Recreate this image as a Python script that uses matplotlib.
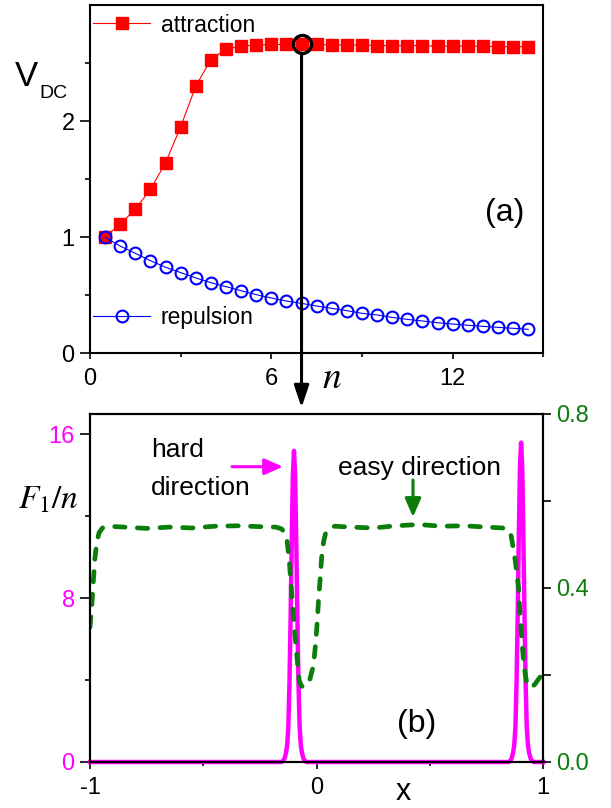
import matplotlib
matplotlib.use("Agg")
import matplotlib.pyplot as plt

plt.rcParams['font.family'] = ['Liberation Sans', 'DejaVu Sans']
plt.rcParams['axes.unicode_minus'] = False

# panel (a): V_DC against n
n_vals = [0.5, 1.0, 1.5, 2.0, 2.5, 3.0, 3.5, 4.0, 4.5, 5.0, 5.5, 6.0, 6.5, 7.0, 7.5,
          8.0, 8.5, 9.0, 9.5, 10.0, 10.5, 11.0, 11.5, 12.0, 12.5, 13.0, 13.5, 14.0, 14.5]
attraction = [1.00, 1.11, 1.24, 1.41, 1.64, 1.95, 2.30, 2.53, 2.62, 2.645, 2.655, 2.66, 2.66, 2.66, 2.66,
              2.655, 2.655, 2.655, 2.65, 2.65, 2.65, 2.65, 2.645, 2.645, 2.645, 2.645, 2.64, 2.64, 2.64]
repulsion = [0.997, 0.922, 0.859, 0.796, 0.739, 0.693, 0.647, 0.606, 0.572, 0.537, 0.503, 0.474, 0.448, 0.428, 0.405,
             0.385, 0.365, 0.342, 0.328, 0.307, 0.290, 0.276, 0.261, 0.250, 0.239, 0.230, 0.221, 0.213, 0.204]
marked_n = 7.0
marked_v = 2.66

# panel (b): F1/n (left axis) and easy-direction curve (right axis) against x
f1_x = [-1.0,
        -0.155, -0.145, -0.140, -0.135, -0.130, -0.125, -0.120, -0.115, -0.110, -0.105, -0.100,
        -0.095, -0.090, -0.085, -0.080, -0.075, -0.070, -0.065, -0.060, -0.055, -0.045,
        0.847, 0.857, 0.862, 0.867, 0.872, 0.877, 0.882, 0.887, 0.892, 0.897, 0.902,
        0.907, 0.912, 0.917, 0.922, 0.927, 0.932, 0.937, 0.942, 0.947, 0.957,
        1.0]
f1_y = [0.0,
        0.0, 0.09, 0.24, 0.46, 0.84, 1.7, 3.8, 7.0, 10.8, 14.0, 15.2,
        14.0, 10.8, 7.0, 3.8, 1.7, 0.84, 0.46, 0.24, 0.09, 0.0,
        0.0, 0.09, 0.25, 0.47, 0.86, 1.7, 3.9, 7.2, 11.1, 14.4, 15.6,
        14.4, 11.1, 7.2, 3.9, 1.7, 0.86, 0.47, 0.25, 0.09, 0.0,
        0.0]
easy_x = [-1.000, -0.992, -0.985, -0.978, -0.970, -0.960, -0.945, -0.920, -0.85, -0.75, -0.65, -0.55,
          -0.45, -0.35, -0.25, -0.18, -0.155, -0.142, -0.132, -0.121, -0.110, -0.099, -0.087, -0.077,
          -0.068, -0.058, -0.045, -0.030, -0.014, -0.005, 0.001, 0.008, 0.015, 0.022, 0.030, 0.040,
          0.055, 0.08, 0.15, 0.25, 0.35, 0.45, 0.55, 0.65, 0.75, 0.82, 0.845, 0.858, 0.868, 0.876,
          0.884, 0.891, 0.898, 0.904, 0.910, 0.918, 0.928, 0.940, 0.952, 0.965, 0.978, 0.990, 1.000]
easy_y = [0.31, 0.36, 0.418, 0.47, 0.505, 0.527, 0.538, 0.542, 0.540, 0.537, 0.540, 0.538,
          0.542, 0.543, 0.541, 0.540, 0.536, 0.528, 0.515, 0.464, 0.388, 0.311, 0.242, 0.188,
          0.175, 0.172, 0.176, 0.19, 0.222, 0.27, 0.311, 0.37, 0.418, 0.47, 0.505, 0.527,
          0.538, 0.542, 0.540, 0.538, 0.543, 0.546, 0.542, 0.543, 0.540, 0.538, 0.535, 0.52, 0.49, 0.464,
          0.43, 0.40, 0.33, 0.29, 0.25, 0.21, 0.178, 0.172, 0.173, 0.180, 0.19, 0.198, 0.205]

W, H = 611, 808
magenta = '#ff00ff'
green = '#0a7d0a'


def fx(px):
    return px / W


def fy(py):
    return 1 - py / H


fig = plt.figure(figsize=(W / 100, H / 100), dpi=100)
ax1 = fig.add_axes([fx(90), fy(353), 453.3 / W, 348 / H])
ax2 = fig.add_axes([fx(90), fy(762), 453.3 / W, 348 / H])
ax2r = ax2.twinx()

# ---- panel (a)
l1, = ax1.plot(n_vals, attraction, '-', color='red', lw=0.8, marker='s', ms=9,
               mfc='red', mec='red', zorder=3)
l2, = ax1.plot(n_vals, repulsion, '-', color='blue', lw=0.8, marker='o', ms=8.5,
               mfc='none', mec='blue', mew=1.5, zorder=3)
ax1.plot([marked_n], [marked_v], 'o', ms=13, mfc='none', mec='black', mew=2.4, zorder=5)
ax1.annotate('', xy=(marked_n, -0.47), xytext=(marked_n, 2.585), xycoords='data',
             arrowprops=dict(arrowstyle='-|>,head_length=0.95,head_width=0.32', lw=2.2,
                             color='black', shrinkA=0, shrinkB=0, mutation_scale=14),
             annotation_clip=False, zorder=6)

ax1.set_xlim(0, 15)
ax1.set_ylim(0, 3)
ax1.set_xticks([0, 6, 12])
ax1.set_xticks([3, 9, 15], minor=True)
ax1.set_yticks([0, 1, 2])
ax1.set_yticks([0.5, 1.5, 2.5], minor=True)
ax1.tick_params(axis='x', which='major', direction='out', length=4.5, width=1.2, pad=6, labelsize=17)
ax1.tick_params(axis='x', which='minor', direction='out', length=3, width=1.2)
ax1.tick_params(axis='y', which='major', direction='out', length=7, width=1.2, pad=4, labelsize=17)
ax1.tick_params(axis='y', which='minor', direction='out', length=3.5, width=1.2)
for s in ax1.spines.values():
    s.set_linewidth(1.5)

leg1 = ax1.legend([l1], ['attraction'], loc='center left', bbox_to_anchor=(0.0066, 0.9425),
                  frameon=False, borderpad=0, borderaxespad=0, handlelength=2.5,
                  handletextpad=0.45, numpoints=1, fontsize=16.5)
ax1.add_artist(leg1)
ax1.legend([l2], ['repulsion'], loc='center left', bbox_to_anchor=(0.0066, 0.1006),
           frameon=False, borderpad=0, borderaxespad=0, handlelength=2.5,
           handletextpad=0.45, numpoints=1, fontsize=16.5)

fig.text(fx(15), fy(86), 'V', fontsize=25, ha='left', va='baseline')
fig.text(fx(39), fy(98), 'DC', fontsize=14, ha='left', va='baseline')
fig.text(fx(332), fy(378), r'$n$', math_fontfamily='stix', fontsize=27, ha='center', va='center')
fig.text(fx(505), fy(213), '(a)', fontsize=23, ha='center', va='center')

# ---- panel (b)
ax2.plot(f1_x, f1_y, '-', color=magenta, lw=3.2, solid_joinstyle='round', clip_on=False)
ax2r.plot(easy_x, easy_y, color=green, lw=3.4, dashes=(2.2, 2.6), dash_capstyle='round')

ax2.set_xlim(-1, 1)
ax2.set_ylim(0, 17)
ax2r.set_ylim(0, 0.8)
ax2.set_xticks([-1, 0, 1])
ax2.set_xticks([-0.5, 0.5], minor=True)
ax2.set_yticks([0, 8, 16])
ax2.set_yticks([4, 12], minor=True)
ax2r.set_yticks([0, 0.4, 0.8])
ax2r.set_yticklabels(['0.0', '0.4', '0.8'])
ax2r.set_yticks([0.2, 0.6], minor=True)
ax2.tick_params(axis='x', which='major', direction='out', length=5, width=1.2, pad=6, labelsize=17)
ax2.tick_params(axis='x', which='minor', direction='out', length=3, width=1.2)
ax2.tick_params(axis='y', which='major', direction='out', length=7, width=1.2, pad=4,
                labelsize=17, labelcolor=magenta)
ax2.tick_params(axis='y', which='minor', direction='out', length=3.5, width=1.2)
ax2r.tick_params(axis='y', which='major', direction='out', length=6, width=1.2, pad=3,
                 labelsize=17, labelcolor=green)
ax2r.tick_params(axis='y', which='minor', direction='out', length=6, width=1.2)
for a in (ax2, ax2r):
    for s in a.spines.values():
        s.set_linewidth(1.5)

fig.text(fx(18), fy(500), r'$F_1/n$', math_fontfamily='stix', fontsize=24, ha='left', va='center')
fig.text(fx(151), fy(457), 'hard', fontsize=19, ha='left', va='baseline')
fig.text(fx(151), fy(495), 'direction', fontsize=19, ha='left', va='baseline')
fig.text(fx(420), fy(475), 'easy direction', fontsize=19, ha='center', va='baseline')
fig.text(fx(417), fy(724), '(b)', fontsize=23, ha='center', va='center')
fig.text(fx(403), fy(807), 'x', fontsize=22, ha='center', va='bottom')

ax2.annotate('', xy=(283, H - 466.7), xytext=(232, H - 466.7), xycoords='figure pixels',
             arrowprops=dict(arrowstyle='-|>,head_length=0.8,head_width=0.35', lw=2.2,
                             color=magenta, shrinkA=0, shrinkB=0, mutation_scale=14),
             annotation_clip=False)
ax2.annotate('', xy=(413, H - 517), xytext=(413, H - 480), xycoords='figure pixels',
             arrowprops=dict(arrowstyle='-|>,head_length=0.8,head_width=0.35', lw=2.2,
                             color=green, shrinkA=0, shrinkB=0, mutation_scale=14),
             annotation_clip=False)

fig.savefig('out.png', dpi=100)
